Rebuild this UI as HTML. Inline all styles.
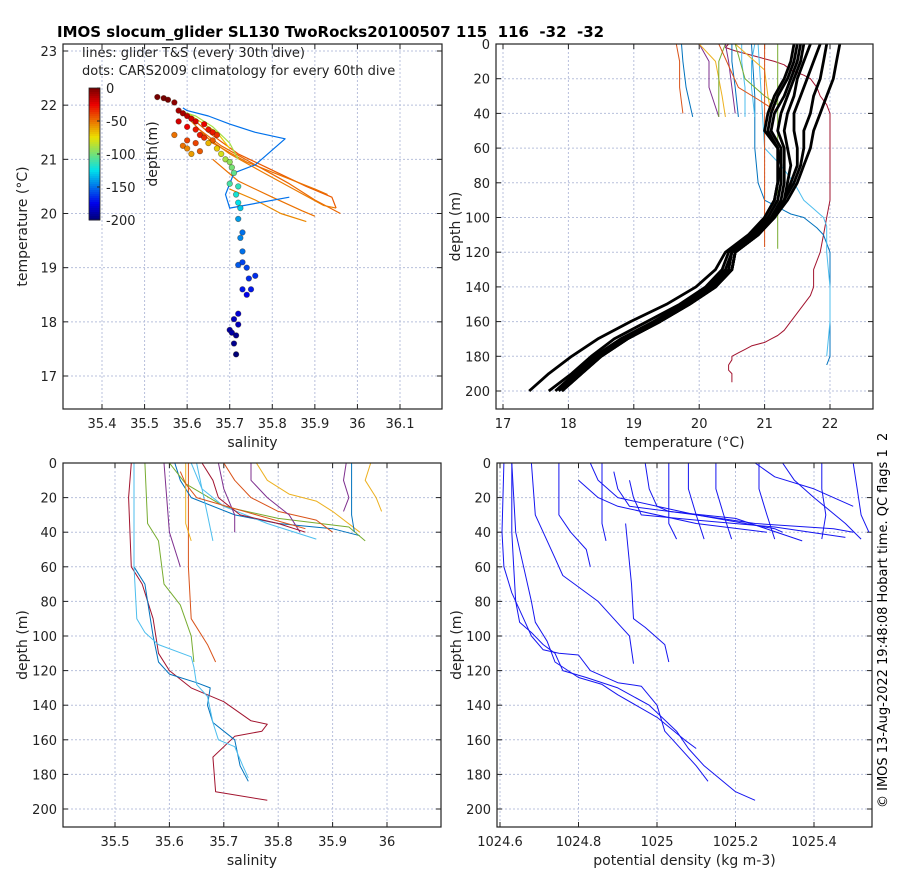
<!DOCTYPE html>
<html><head><meta charset="utf-8"><style>
body{margin:0;background:#fff}
svg{display:block;font-family:"DejaVu Sans","Liberation Sans",sans-serif}
</style></head><body>
<svg id="fig" width="900" height="880" viewBox="0 0 900 880" xmlns="http://www.w3.org/2000/svg">
<rect width="900" height="880" fill="#fff"/>
<text x="57" y="37" font-size="15" font-weight="bold" style="white-space:pre">IMOS slocum_glider SL130 TwoRocks20100507 115  116  -32  -32</text>
<text transform="translate(887,808) rotate(-90)" font-size="13" style="white-space:pre">© IMOS 13-Aug-2022 19:48:08 Hobart time. QC flags 1  2</text>
</svg>
<script>
// ---------- data ----------
const tsXTicks=[35.4,35.5,35.6,35.7,35.8,35.9,36,36.1];
const tsYTicks=[17,18,19,20,21,22,23];
const tempXTicks=[17,18,19,20,21,22];
const salXTicks=[35.5,35.6,35.7,35.8,35.9,36];
const densXTicks=[1024.6,1024.8,1025,1025.2,1025.4];
const depthTicks=[0,20,40,60,80,100,120,140,160,180,200];
const cbTicks=[0,-50,-100,-150,-200];
// CARS climatology dots: salinity, temperature, depth
const dotSal=[35.53,35.545,35.555,35.57,35.58,35.59,35.6,35.61,35.62,35.64,35.65,35.66,35.67,35.58,35.6,35.62,35.63,35.64,35.6,35.62,35.66,35.57,35.59,35.6,35.61,35.63,35.65,35.67,35.68,35.69,35.7,35.705,35.71,35.7,35.72,35.715,35.72,35.725,35.72,35.725,35.73,35.73,35.72,35.73,35.74,35.745,35.76,35.75,35.74,35.73,35.72,35.71,35.72,35.7,35.705,35.715,35.71,35.715];
const dotTemp=[22.15,22.13,22.1,22.05,21.9,21.85,21.8,21.75,21.7,21.65,21.55,21.5,21.45,21.7,21.6,21.55,21.45,21.4,21.35,21.3,21.35,21.45,21.25,21.2,21.1,21.15,21.3,21.2,21.1,21.0,20.95,20.85,20.75,20.55,20.5,20.35,20.2,20.1,19.9,19.55,19.65,19.3,19.05,19.1,19.0,18.8,18.85,18.6,18.5,18.6,18.15,18.05,17.95,17.85,17.8,17.75,17.6,17.4];
const dotDepth=[0,0,0,5,10,10,15,20,20,25,30,30,35,20,25,30,30,35,40,40,45,50,50,55,60,45,65,70,80,90,95,100,105,110,115,120,125,130,140,145,150,150,155,160,160,165,165,170,175,170,180,185,185,190,190,195,195,200];
// glider T&S lines
const tsLineSal=[
 [35.59,35.65,35.72,35.8,35.88,35.94,35.95],
 [35.61,35.66,35.74,35.82,35.9,35.93],
 [35.62,35.68,35.76,35.84,35.9,35.96],
 [35.63,35.7,35.78,35.85,35.92,35.95],
 [35.66,35.72,35.8,35.87,35.9],
 [35.7,35.76,35.82,35.88],
 [35.59,35.6,35.65,35.7,35.76,35.83,35.76,35.71,35.69,35.7,35.84],
 [35.58,35.62,35.66,35.7,35.72],
 [35.6,35.63,35.67,35.7]];
const tsLineTemp=[
 [21.9,21.5,21.1,20.8,20.5,20.3,20.1],
 [21.7,21.3,20.95,20.7,20.45,20.35],
 [21.6,21.25,20.9,20.55,20.25,20.0],
 [21.5,21.1,20.75,20.45,20.15,20.1],
 [21.0,20.6,20.3,20.05,19.95],
 [20.45,20.25,20.0,19.85],
 [21.95,21.9,21.8,21.65,21.5,21.38,20.9,20.75,20.35,20.1,20.3],
 [21.9,21.8,21.6,21.3,21.0],
 [21.85,21.7,21.5,21.2]];
const tsLineColorDepth=[45,50,48,52,50,55,150,90,70];
// top-right: CARS climatology temperature profiles (black)
const climDepth=[0,10,20,30,40,50,60,70,80,90,100,110,120,130,140,150,160,170,180,190,200];
const climTemp=[
 [21.45,21.4,21.3,21.15,21.05,21.0,21.2,21.2,21.2,21.15,21.0,20.75,20.4,20.25,19.95,19.5,18.95,18.45,18.05,17.7,17.4],
 [21.5,21.45,21.35,21.2,21.1,21.05,21.2,21.25,21.2,21.15,21.0,20.8,20.45,20.35,20.1,19.7,19.2,18.7,18.35,18.05,17.7],
 [21.55,21.5,21.4,21.3,21.15,21.1,21.25,21.25,21.25,21.2,21.05,20.8,20.5,20.4,20.15,19.75,19.3,18.8,18.4,18.1,17.8],
 [21.6,21.55,21.45,21.35,21.25,21.2,21.3,21.3,21.3,21.25,21.1,20.85,20.5,20.45,20.2,19.8,19.35,18.85,18.45,18.15,17.85],
 [21.7,21.6,21.5,21.45,21.35,21.3,21.35,21.4,21.35,21.3,21.15,20.9,20.55,20.5,20.25,19.85,19.4,18.9,18.5,18.2,17.9],
 [21.85,21.75,21.65,21.55,21.45,21.45,21.5,21.5,21.4,21.3,21.15,20.9,20.55,20.5,20.25,19.85,19.4,18.9,18.5,18.2,17.9],
 [21.95,21.9,21.85,21.75,21.7,21.6,21.6,21.55,21.45,21.3,21.1,20.9,20.55,20.5,20.25,19.85,19.4,18.9,18.5,18.2,17.9],
 [22.15,22.1,22.05,21.95,21.85,21.75,21.7,21.6,21.5,21.35,21.15,20.9,20.55,20.5,20.25,19.85,19.4,18.9,18.5,18.2,17.9]];
// top-right: glider temperature profiles (thin)
const gTempVals=[
 [20.5,20.5,20.5,20.45,20.45,20.5,20.5,20.6,20.7,20.8,21.0,21.1,21.2,21.3,21.4,21.6,21.7,21.75,21.75,21.85,21.9,21.95,22.0,22.0,22.0,22.0,22.0,22.0,21.95,21.85,21.8,21.7,21.6,21.4,21.3,21.15,20.95,20.75,20.55,20.4,20.45],
 [21.95,22.0,22.0,22.0,22.0,22.0,22.0,22.0,21.9,21.8,21.6,21.4,21.3,21.2,21.1,21.0,20.95,20.9,20.85,20.85,20.8],
 [21.95,22.0,22.0,21.95,21.95,21.95,21.9,21.75,21.6,21.45,21.25,21.0,20.9],
 [19.75,19.7,19.7,19.65],[19.9,19.8,19.75,19.73],[20.3,20.15,20.15,20.0],[20.4,20.35,20.25,20.0],
 [20.3,20.3,20.3,20.4],[20.55,20.5,20.45,20.4],[20.6,20.55,20.5,20.5],[20.7,20.7,20.65,20.65],
 [20.85,20.8,20.8,20.85],[21.1,21.05,21.0,20.55],[21.15,20.9,20.6,20.3],[21.2,21.0,20.7,20.55],
 [21.0,21.0,21.0,21.0],[21.2,21.2,21.2,21.2]];
const gTempDepth=[
 [195,192,190,188,185,182,180,178,176,174,172,170,168,165,160,150,145,140,130,120,110,100,90,80,70,60,50,40,35,30,25,20,18,15,12,10,8,6,4,2,0],
 [185,180,170,160,150,140,130,120,110,106,100,98,96,94,92,90,85,80,60,30,0],
 [180,160,140,120,110,105,100,95,90,80,70,60,0],
 [40,25,10,0],[42,25,10,0],[42,25,10,0],[42,30,10,0],
 [42,25,10,0],[40,25,10,0],[42,25,10,0],[42,25,10,0],
 [42,25,10,0],[40,30,15,0],[38,32,25,0],[35,30,20,0],
 [117,80,40,0],[118,80,40,0]];
const gTempColor=["#A2142F","#0072BD","#4DBEEE","#D95319","#0072BD","#7E2F8E","#EDB120","#77AC30","#7E2F8E","#0072BD","#4DBEEE","#4DBEEE","#EDB120","#D95319","#77AC30","#D95319","#77AC30"];
// bottom-left: salinity profiles
const salProfVals=[
 [35.53,35.525,35.53,35.55,35.57,35.58,35.6,35.64,35.7,35.75,35.78,35.77,35.72,35.68,35.685,35.78],
 [35.535,35.535,35.535,35.555,35.56,35.57,35.58,35.6,35.65,35.675,35.67,35.68,35.72,35.73,35.745],
 [35.535,35.535,35.54,35.555,35.58,35.64,35.645,35.65,35.67,35.68,35.69,35.72,35.735,35.745],
 [35.555,35.56,35.58,35.59,35.62,35.64,35.645],
 [35.635,35.635,35.64,35.67,35.685],
 [35.59,35.6,35.615,35.62],
 [35.61,35.62,35.64,35.72,35.8,35.9,35.95],
 [35.6,35.63,35.7,35.8,35.93,35.96],
 [35.7,35.72,35.75,35.8,35.87,35.9],
 [35.76,35.78,35.82,35.87,35.9,35.95],
 [35.75,35.75,35.78,35.82,35.84],
 [35.64,35.66,35.7,35.78,35.87],
 [35.66,35.68,35.69,35.73,35.8,35.85],
 [35.69,35.7,35.72,35.72],
 [35.65,35.66,35.67,35.68],
 [35.935,35.935,35.935,35.94],
 [35.97,35.96,35.98,35.99],
 [35.925,35.92,35.93,35.92],
 [35.63,35.63,35.63,35.64],
 [35.62,35.63,35.65,35.76,35.85]];
const salProfDepth=[
 [0,20,60,70,90,110,120,130,138,149,151,155,158,170,190,195],
 [0,30,60,70,80,100,115,122,127,130,140,150,160,175,184],
 [0,60,90,98,105,112,118,128,135,150,160,164,175,182],
 [0,35,45,70,82,100,115],
 [0,60,90,105,115],
 [0,40,55,60],
 [0,10,20,30,35,38,42],
 [0,12,25,32,37,45],
 [0,10,20,28,33,40],
 [0,10,18,22,28,40],
 [0,10,20,30,40],
 [0,15,25,35,44],
 [0,10,20,30,35,40],
 [0,15,30,40],
 [0,15,30,45],
 [0,15,30,40],
 [0,10,20,28],
 [0,10,20,28],
 [0,20,35,45],
 [5,12,20,30,38]];
const salProfColor=["#A2142F","#0072BD","#4DBEEE","#77AC30","#D95319","#7E2F8E","#0072BD","#77AC30","#D95319","#EDB120","#7E2F8E","#4DBEEE","#A2142F","#7E2F8E","#4DBEEE","#0072BD","#EDB120","#7E2F8E","#EDB120","#D95319"];
// bottom-right: potential density profiles
const densVals=[
 [1024.61,1024.605,1024.61,1024.63,1024.66,1024.68,1024.71,1024.75,1024.8,1024.83,1024.9,1024.96,1025.0,1025.02,1025.04,1025.1,1025.13],
 [1024.63,1024.63,1024.635,1024.64,1024.65,1024.68,1024.71,1024.74,1024.76,1024.82,1024.9,1024.98,1025.05,1025.08,1025.12,1025.2,1025.25],
 [1024.63,1024.64,1024.66,1024.68,1024.69,1024.72,1024.74,1024.8,1024.86,1024.9,1025.0,1025.07,1025.1],
 [1024.68,1024.69,1024.71,1024.74,1024.76,1024.79,1024.85,1024.91,1024.93,1024.94],
 [1024.75,1024.75,1024.78,1024.82,1024.83],
 [1024.92,1024.935,1024.94,1024.97,1025.02,1025.03],
 [1024.86,1024.86,1024.86,1024.87],
 [1024.83,1024.85,1024.9,1025.1,1025.3,1025.32],
 [1024.89,1024.9,1024.93,1025.1,1025.25,1025.45,1025.5],
 [1024.93,1024.94,1024.96,1025.1,1025.3,1025.48],
 [1024.97,1024.98,1025.0,1025.03,1025.2,1025.37],
 [1025.03,1025.03,1025.03,1025.05],
 [1025.08,1025.08,1025.1,1025.12],
 [1025.15,1025.15,1025.17,1025.19],
 [1025.26,1025.26,1025.28,1025.3],
 [1025.32,1025.35,1025.4,1025.48,1025.52],
 [1025.42,1025.42,1025.43,1025.42],
 [1025.5,1025.51,1025.52,1025.54],
 [1025.25,1025.3,1025.4,1025.5],
 [1024.8,1024.85,1024.9,1025.1,1025.28]];
const densDepth=[
 [0,40,60,75,90,100,108,110,111,120,127,129,140,155,160,175,184],
 [0,40,60,80,92,98,105,110,120,124,130,140,155,165,175,190,195],
 [0,40,60,80,92,103,115,124,128,134,147,160,165],
 [0,30,40,55,65,70,80,95,100,116],
 [0,30,40,50,60],
 [35,70,90,95,105,115],
 [0,20,35,45],
 [0,10,20,30,38,40],
 [5,15,25,30,35,38,40],
 [10,20,30,33,37,43],
 [0,15,25,28,32,45],
 [0,20,35,44],
 [0,15,30,44],
 [0,15,30,44],
 [0,15,30,44],
 [0,10,20,35,44],
 [0,15,30,44],
 [0,15,30,40],
 [0,8,15,25],
 [10,20,25,35,40]];

// ---------- helpers ----------
const svg=document.getElementById('fig');
const NS='http://www.w3.org/2000/svg';
function mk(tag,attrs,parent){const e=document.createElementNS(NS,tag);for(const k in attrs)e.setAttribute(k,attrs[k]);(parent||svg).appendChild(e);return e;}
function scale(d0,d1,r0,r1){return v=>r0+(v-d0)/(d1-d0)*(r1-r0);}
function jet(t){t=Math.max(0,Math.min(1,t));const r=Math.max(0,Math.min(1,1.5-Math.abs(4*t-3))),g=Math.max(0,Math.min(1,1.5-Math.abs(4*t-2))),b=Math.max(0,Math.min(1,1.5-Math.abs(4*t-1)));return `rgb(${Math.round(r*235)},${Math.round(g*225)},${Math.round(b*235)})`;}
function depthColor(d){return jet(1-d/200);}
function axes(name,L,T,R,B,xs,ys,xt,yt,fmtx,fmty,xlabel,ylabel){
  const g=mk('g',{});
  
  
  xt.forEach(v=>{const x=xs(v);
    const l=mk('line',{x1:x,x2:x,y1:T,y2:B,stroke:'#b8c0dc','stroke-width':1,'stroke-dasharray':'2,2'},g);
    
    mk('line',{x1:x,x2:x,y1:B,y2:B-5,stroke:'#222'},g);mk('line',{x1:x,x2:x,y1:T,y2:T+5,stroke:'#222'},g);
    const t=mk('text',{x:x,y:B+19,'font-size':13,'text-anchor':'middle',fill:'#222'},g);t.textContent=fmtx(v);
    });
  yt.forEach(v=>{const y=ys(v);
    const l=mk('line',{x1:L,x2:R,y1:y,y2:y,stroke:'#b8c0dc','stroke-width':1,'stroke-dasharray':'2,2'},g);
    
    mk('line',{x1:L,x2:L+5,y1:y,y2:y,stroke:'#222'},g);mk('line',{x1:R,x2:R-5,y1:y,y2:y,stroke:'#222'},g);
    const t=mk('text',{x:L-6,y:y+5,'font-size':13,'text-anchor':'end',fill:'#222'},g);t.textContent=fmty(v);
    });
  const xl=mk('text',{x:(L+R)/2,y:B+38,'font-size':14,'text-anchor':'middle',fill:'#222'},g);xl.textContent=xlabel;
  
  const yl=mk('text',{transform:`translate(${L-36},${(T+B)/2}) rotate(-90)`,'font-size':14,'text-anchor':'middle',fill:'#222'},g);yl.textContent=ylabel;
  
  return g;
}
function frame(L,T,R,B){const f=mk('rect',{x:L,y:T,width:R-L,height:B-T,fill:'none',stroke:'#222','stroke-width':1.2});
  }
function clip(id,L,T,R,B){const c=mk('clipPath',{id:id});mk('rect',{x:L,y:T,width:R-L,height:B-T},c);}
function poly(xa,ya,xs,ys,color,w,cl,name){
  const pts=xa.map((v,i)=>xs(v).toFixed(1)+','+ys(ya[i]).toFixed(1)).join(' ');
  const p=mk('polyline',{points:pts,fill:'none',stroke:color,'stroke-width':w,'stroke-linejoin':'round','clip-path':`url(#${cl})`});
  
  
  return p;
}
const fmt=v=>String(v);

// ---------- panel 1: T-S ----------
{const L=63,T=44,R=442,B=409;
 const xs=scale(35.4,36.1,102,400), ys=scale(17,23,376,51);
 axes('ts-diagram',L,T,R,B,xs,ys,tsXTicks,tsYTicks,fmt,fmt,'salinity','temperature (°C)');
 clip('c1',L,T,R,B);
 tsLineSal.forEach((s,i)=>poly(s,tsLineTemp[i],xs,ys,depthColor(tsLineColorDepth[i]),1.2,'c1','ts-line'));
 dotSal.forEach((s,i)=>{const c=mk('circle',{cx:xs(s),cy:ys(dotTemp[i]),r:2.8,fill:depthColor(dotDepth[i]),stroke:'rgba(40,20,0,0.45)','stroke-width':0.7,'clip-path':'url(#c1)'});
   
   });
 frame(L,T,R,B);
 const n1=mk('text',{x:82,y:57,'font-size':13,fill:'#222'});n1.textContent='lines: glider T&S (every 30th dive)';
 
 const n2=mk('text',{x:82,y:75,'font-size':13,fill:'#222'});n2.textContent='dots: CARS2009 climatology for every 60th dive';
 
 // colorbar
 const cb=mk('g',{});
 const cy=scale(0,-200,88,220);
 for(let i=0;i<66;i++){const d0=i*200/66;mk('rect',{x:89,y:cy(-d0),width:11,height:(132/66)+0.5,fill:depthColor(d0+1.5)},cb);}
 mk('rect',{x:89,y:88,width:11,height:132,fill:'none',stroke:'#222','stroke-width':0.8},cb);
 cbTicks.forEach(v=>{mk('line',{x1:97,x2:100,y1:cy(v),y2:cy(v),stroke:'#222'},cb);
   const t=mk('text',{x:106,y:cy(v)+5,'font-size':13,fill:'#222'},cb);t.textContent=String(v);
   });
 const cl=mk('text',{transform:'translate(157,154) rotate(-90)','font-size':14,'text-anchor':'middle',fill:'#222'},cb);cl.textContent='depth(m)';
 
}
// ---------- panel 2: temperature profiles ----------
{const L=496,T=44,R=873,B=409;
 const xs=scale(17,22,503,830), ys=scale(0,200,44,391);
 axes('temperature-profiles',L,T,R,B,xs,ys,tempXTicks,depthTicks,fmt,fmt,'temperature (°C)','depth (m)');
 clip('c2',L,T,R,B);
 gTempVals.forEach((v,i)=>poly(v,gTempDepth[i],xs,ys,gTempColor[i],1,'c2','glider-temperature-profile'));
 climTemp.forEach(v=>poly(v,climDepth,xs,ys,'#000',2.8,'c2','climatology-temperature-profile'));
 frame(L,T,R,B);
}
// ---------- panel 3: salinity profiles ----------
{const L=63,T=463,R=441,B=827;
 const xs=scale(35.5,36,115,387), ys=scale(0,200,463,809);
 axes('salinity-profiles',L,T,R,B,xs,ys,salXTicks,depthTicks,fmt,fmt,'salinity','depth (m)');
 clip('c3',L,T,R,B);
 salProfVals.forEach((v,i)=>poly(v,salProfDepth[i],xs,ys,salProfColor[i],1,'c3','salinity-profile'));
 frame(L,T,R,B);
}
// ---------- panel 4: density profiles ----------
{const L=497,T=463,R=872,B=827;
 const xs=scale(1024.6,1025.4,500,814), ys=scale(0,200,463,809);
 axes('density-profiles',L,T,R,B,xs,ys,densXTicks,depthTicks,fmt,fmt,'potential density (kg m-3)','depth (m)');
 clip('c4',L,T,R,B);
 densVals.forEach((v,i)=>poly(v,densDepth[i],xs,ys,'#1515f0',1,'c4','density-profile'));
 frame(L,T,R,B);
}
</script>
</body></html>
